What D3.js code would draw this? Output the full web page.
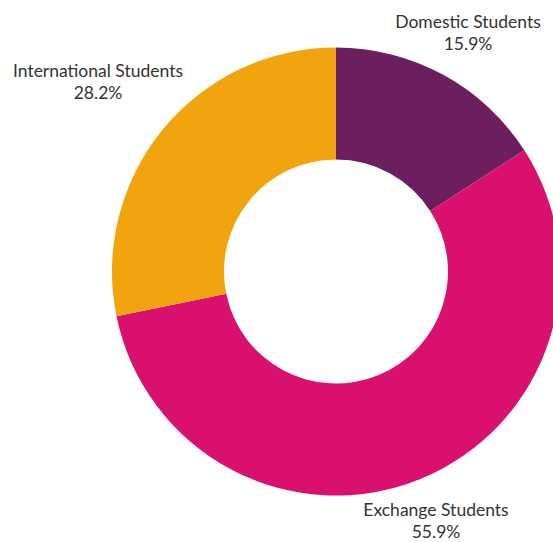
<!DOCTYPE html>
<html>
<head>
<meta charset="utf-8">
<script src="https://cdn.jsdelivr.net/npm/d3@7"></script>
<style>
  html, body { margin: 0; padding: 0; background: #fff; }
  svg { display: block; }
  text { font-family: Lato, "Open Sans", sans-serif; fill: #333; }
</style>
</head>
<body>
<svg id="chart" width="553" height="542"></svg>
<script>
// Student mix by enrolment type (share of total, %)
const categories = ["Domestic Students", "Exchange Students", "International Students"];
const shares = [15.9, 55.9, 28.2];
const colors = ["#6d1e5f", "#d9106e", "#f2a40f"];

// label anchor points for each slice (centre of the two-line label)
const labelPos = [[468, 22], [436, 510], [98, 71]];

const svg = d3.select("#chart");
const cx = 336, cy = 271.5, outerR = 224, innerR = 112;

const data = categories.map((c, i) => ({ name: c, value: shares[i], color: colors[i] }));

const pie = d3.pie().value(d => d.value).sort(null);
const arc = d3.arc().innerRadius(innerR).outerRadius(outerR);

const g = svg.append("g").attr("transform", `translate(${cx},${cy})`);
g.selectAll("path")
  .data(pie(data))
  .join("path")
  .attr("d", arc)
  .attr("fill", d => d.data.color);

const labels = svg.selectAll("g.label")
  .data(data)
  .join("g")
  .attr("class", "label")
  .attr("transform", (d, i) => `translate(${labelPos[i][0]},${labelPos[i][1]})`);

labels.append("text")
  .attr("text-anchor", "middle")
  .attr("y", 0)
  .attr("dy", "0.35em")
  .style("font-size", "17.5px")
  .text(d => d.name);

labels.append("text")
  .attr("text-anchor", "middle")
  .attr("y", 22)
  .attr("dy", "0.35em")
  .style("font-size", "17.5px")
  .text(d => d.value.toFixed(1) + "%");
</script>
</body>
</html>
